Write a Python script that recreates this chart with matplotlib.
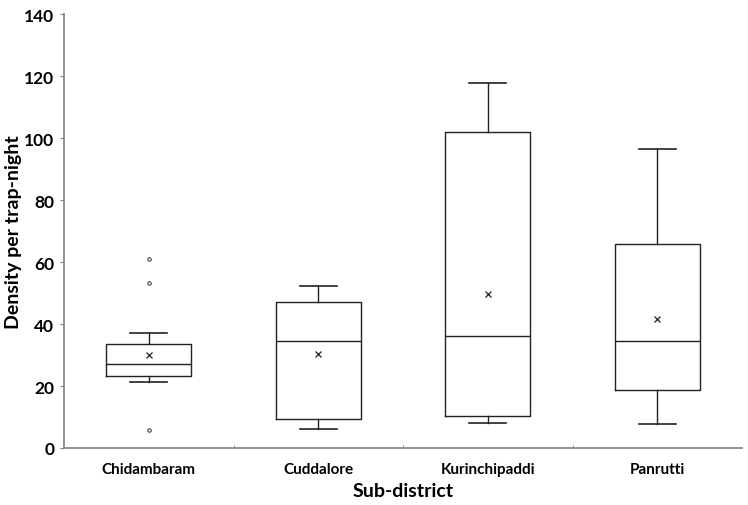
import matplotlib
matplotlib.use("Agg")
import matplotlib.pyplot as plt

categories = ["Chidambaram", "Cuddalore", "Kurinchipaddi", "Panrutti"]
whislo = [21.3, 6.0, 8.1, 7.8]
q1 = [23.2, 9.3, 10.3, 18.6]
med = [27.0, 34.5, 36.3, 34.4]
q3 = [33.5, 47.2, 102.0, 66.0]
whishi = [37.2, 52.3, 117.8, 96.4]
means = [30.0, 30.4, 49.6, 41.5]
fliers = [[60.9, 53.3, 5.7], [], [], []]
yticks = [0, 20, 40, 60, 80, 100, 120, 140]

plt.rcParams['font.family'] = ['Lato', 'DejaVu Sans']

fig = plt.figure(figsize=(7.48, 5.06), dpi=100)
ax = fig.add_axes([0.0856, 0.1127, 0.9064, 0.857])

stats = []
for i, c in enumerate(categories):
    stats.append(dict(label=c, whislo=whislo[i], q1=q1[i], med=med[i], q3=q3[i],
                      whishi=whishi[i], mean=means[i], fliers=fliers[i]))

pos = list(range(len(categories)))
ax.bxp(stats, positions=pos, widths=0.5, showmeans=True, showfliers=True,
       boxprops=dict(color='#222222', linewidth=1.0),
       medianprops=dict(color='#222222', linewidth=1.0),
       whiskerprops=dict(color='#222222', linewidth=1.0),
       capprops=dict(color='#222222', linewidth=1.2),
       capwidths=0.22,
       meanprops=dict(marker='x', markeredgecolor='#222222', markersize=4, markeredgewidth=0.9),
       flierprops=dict(marker='o', markerfacecolor='white', markeredgecolor='#444444', markersize=2.5, markeredgewidth=0.8))

ax.set_xlim(-0.5, len(categories) - 0.5)
ax.set_ylim(0, 140)
ax.set_yticks(yticks)
ax.set_yticklabels([str(v) for v in yticks], fontsize=12.5, fontweight='bold')
ax.set_xticks(pos)
ax.set_xticklabels(categories, fontsize=11, fontweight='bold')
ax.set_xticks([0.5, 1.5, 2.5], minor=True)
ax.tick_params(axis='x', which='major', length=0, pad=10)
ax.tick_params(axis='x', which='minor', length=2.5, direction='in', color='#808080')
ax.tick_params(axis='y', length=3, direction='out', color='#808080', pad=4)

for s in ['top', 'right']:
    ax.spines[s].set_visible(False)
for s in ['left', 'bottom']:
    ax.spines[s].set_color('#808080')
    ax.spines[s].set_linewidth(1.2)

ax.set_ylabel("Density per trap-night", fontsize=14, fontweight='bold')
ax.yaxis.set_label_coords(-0.062, 0.5)
ax.set_xlabel("Sub-district", fontsize=14, fontweight='bold')
ax.xaxis.set_label_coords(0.5, -0.078)

fig.savefig("out.png", dpi=100)
